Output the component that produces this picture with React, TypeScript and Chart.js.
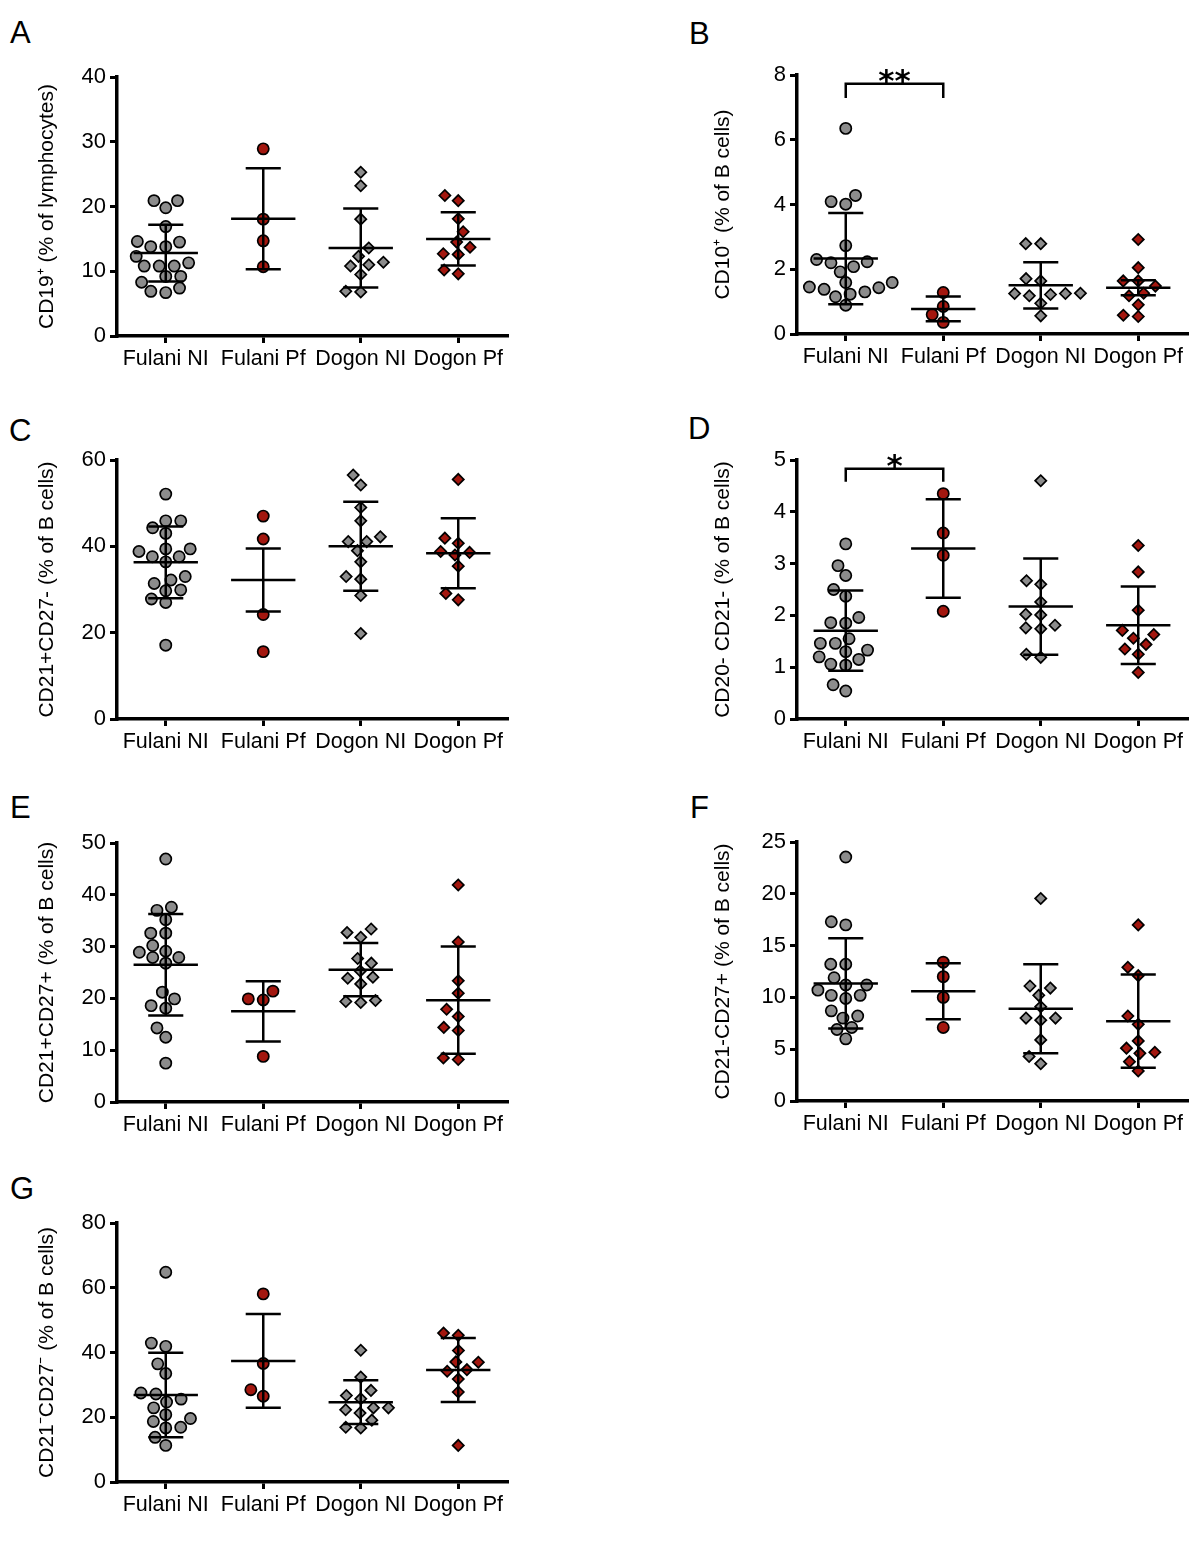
import React, { useEffect, useRef } from 'react';
import { Chart, registerables } from 'chart.js';

Chart.register(...registerables);

const FONT = "'Liberation Sans', Arial, Helvetica, sans-serif";
const GRAY = '#8c8c8c';
const RED = '#a3170f';

const categories = ['Fulani NI', 'Fulani Pf', 'Dogon NI', 'Dogon Pf'];

// ---------- Panel A: CD19+ (% of lymphocytes)
const aFulaniNI = [20.9, 20.9, 19.8, 16.9, 14.5, 14.6, 13.8, 13.8, 12.3, 11.3, 10.8, 10.8, 10.8, 9.2, 9.2, 8.3, 7.4, 6.9, 6.7];
const aFulaniPf = [28.9, 18.05, 14.7, 10.7];
const aDogonNI = [25.3, 23.2, 18.05, 13.6, 11.4, 12.3, 11.0, 10.8, 9.5, 6.8, 6.9];
const aDogonPf = [21.7, 20.9, 18.1, 16.1, 14.5, 13.7, 12.7, 12.6, 9.6, 10.2];
const aMean = [12.8, 18.1, 13.6, 15.0];
const aSD = [4.4, 7.8, 6.1, 4.1];

// ---------- Panel B: CD10+ (% of B cells)
const bFulaniNI = [6.35, 4.28, 4.01, 4.09, 2.73, 2.30, 2.20, 2.23, 2.08, 1.92, 1.59, 1.59, 1.38, 1.23, 1.45, 1.43, 1.30, 1.15, 0.89];
const bFulaniPf = [1.28, 0.85, 0.60, 0.36];
const bDogonNI = [2.79, 2.79, 1.64, 1.71, 1.25, 1.22, 1.18, 1.25, 1.26, 0.95, 0.56];
const bDogonPf = [2.92, 2.05, 1.64, 1.64, 1.26, 1.48, 1.18, 0.90, 0.54, 0.58];
const bMean = [2.33, 0.775, 1.505, 1.43];
const bSD = [1.41, 0.385, 0.715, 0.23];
const bBracket = { from: 0, to: 1, level: 7.73, drop: 7.29, label: '**' };

// ---------- Panel C: CD21+CD27- (% of B cells)
const cFulaniNI = [52.1, 45.9, 45.9, 44.3, 43.0, 39.4, 38.8, 39.4, 37.6, 37.6, 36.4, 33.0, 32.2, 31.4, 29.9, 29.7, 27.8, 27.0, 17.1];
const cFulaniPf = [47.0, 41.7, 24.2, 15.6];
const cDogonNI = [56.5, 54.2, 49.0, 45.9, 42.2, 41.1, 41.1, 39.0, 36.4, 33.0, 32.4, 28.6, 19.8];
const cDogonPf = [55.5, 38.8, 40.7, 41.9, 38.0, 38.6, 35.4, 29.1, 27.6];
const cMean = [36.3, 32.2, 40.0, 38.4];
const cSD = [8.3, 7.3, 10.3, 8.1];

// ---------- Panel D: CD20- CD21- (% of B cells)
const dFulaniNI = [3.38, 2.96, 2.77, 2.50, 2.37, 1.96, 1.86, 1.85, 1.55, 1.46, 1.46, 1.33, 1.30, 1.20, 1.06, 1.04, 1.15, 0.66, 0.54];
const dFulaniPf = [4.35, 3.59, 3.16, 2.08];
const dDogonNI = [4.60, 2.67, 2.60, 2.26, 2.01, 2.02, 1.76, 1.74, 1.81, 1.19, 1.25];
const dDogonPf = [3.35, 2.84, 2.10, 1.71, 1.63, 1.56, 1.35, 1.44, 1.25, 0.90];
const dMean = [1.705, 3.29, 2.17, 1.81];
const dSD = [0.775, 0.95, 0.93, 0.75];
const dBracket = { from: 0, to: 1, level: 4.83, drop: 4.58, label: '*' };

// ---------- Panel E: CD21+CD27+ (% of B cells)
const eFulaniNI = [46.9, 37.0, 37.6, 35.2, 32.6, 32.6, 30.2, 28.9, 29.1, 27.9, 27.9, 26.8, 19.9, 21.2, 18.1, 18.6, 14.3, 12.5, 7.5];
const eFulaniPf = [19.9, 19.7, 21.4, 8.8];
const eDogonNI = [32.7, 31.8, 33.4, 26.8, 27.7, 25.3, 23.9, 24.1, 22.8, 19.6, 19.2, 19.4];
const eDogonPf = [41.9, 30.9, 23.4, 21.0, 17.9, 16.5, 14.4, 13.8, 8.2, 8.5];
const eMean = [26.5, 17.5, 25.55, 19.65];
const eSD = [9.8, 5.8, 5.15, 10.35];

// ---------- Panel F: CD21-CD27+ (% of B cells)
const fFulaniNI = [23.55, 17.0, 17.3, 13.2, 13.2, 11.9, 11.2, 11.2, 10.2, 10.2, 10.7, 9.9, 8.7, 8.2, 8.0, 7.1, 6.9, 6.0];
const fFulaniPf = [13.4, 12.0, 10.0, 7.1];
const fDogonNI = [19.55, 10.9, 11.1, 10.2, 9.1, 8.0, 7.8, 8.0, 5.9, 3.6, 4.3];
const fDogonPf = [17.0, 12.9, 12.1, 8.2, 7.4, 5.8, 5.1, 4.7, 4.6, 3.8, 2.9];
const fMean = [11.35, 10.6, 8.9, 7.7];
const fSD = [4.35, 2.7, 4.3, 4.5];

// ---------- Panel G: CD21-CD27- (% of B cells)
const gFulaniNI = [64.8, 41.9, 42.9, 36.5, 33.5, 27.5, 27.2, 24.7, 25.6, 22.9, 20.8, 19.6, 18.7, 16.7, 16.9, 13.8, 11.3];
const gFulaniPf = [58.1, 36.6, 28.5, 26.5];
const gDogonNI = [40.7, 32.4, 28.3, 25.7, 26.7, 22.9, 22.3, 22.9, 21.3, 19.1, 16.7, 16.9];
const gDogonPf = [45.3, 46.0, 37.0, 40.6, 37.1, 34.2, 34.7, 31.8, 27.8, 11.3];
const gMean = [26.85, 37.4, 24.65, 34.6];
const gSD = [13.05, 14.5, 6.75, 9.9];

type Bracket = { from: number; to: number; level: number; drop: number; label: string };
type PanelCfg = {
  letter: string;
  col: number;
  plotTop: number;
  letterTop: number;
  letterLeft: number;
  title: string;
  yMax: number;
  step: number;
  groups: number[][];
  means: number[];
  sds: number[];
  bracket?: Bracket;
};

const panels: PanelCfg[] = [
  { letter: 'A', col: 0, plotTop: 77, letterTop: 17, letterLeft: 10, title: 'CD19\u207A (% of lymphocytes)', yMax: 40, step: 10, groups: [aFulaniNI, aFulaniPf, aDogonNI, aDogonPf], means: aMean, sds: aSD },
  { letter: 'B', col: 1, plotTop: 75, letterTop: 18, letterLeft: 689, title: 'CD10\u207A (% of B cells)', yMax: 8, step: 2, groups: [bFulaniNI, bFulaniPf, bDogonNI, bDogonPf], means: bMean, sds: bSD, bracket: bBracket },
  { letter: 'C', col: 0, plotTop: 460, letterTop: 415, letterLeft: 9, title: 'CD21+CD27- (% of B cells)', yMax: 60, step: 20, groups: [cFulaniNI, cFulaniPf, cDogonNI, cDogonPf], means: cMean, sds: cSD },
  { letter: 'D', col: 1, plotTop: 460, letterTop: 413, letterLeft: 688, title: 'CD20- CD21- (% of B cells)', yMax: 5, step: 1, groups: [dFulaniNI, dFulaniPf, dDogonNI, dDogonPf], means: dMean, sds: dSD, bracket: dBracket },
  { letter: 'E', col: 0, plotTop: 843, letterTop: 792, letterLeft: 10, title: 'CD21+CD27+ (% of B cells)', yMax: 50, step: 10, groups: [eFulaniNI, eFulaniPf, eDogonNI, eDogonPf], means: eMean, sds: eSD },
  { letter: 'F', col: 1, plotTop: 842, letterTop: 792, letterLeft: 690, title: 'CD21-CD27+ (% of B cells)', yMax: 25, step: 5, groups: [fFulaniNI, fFulaniPf, fDogonNI, fDogonPf], means: fMean, sds: fSD },
  { letter: 'G', col: 0, plotTop: 1223, letterTop: 1173, letterLeft: 10, title: 'CD21\u207BCD27\u207B (% of B cells)', yMax: 80, step: 20, groups: [gFulaniNI, gFulaniPf, gDogonNI, gDogonPf], means: gMean, sds: gSD },
];

// layout sizes (pixels)
const CANVAS_W = 520;
const CANVAS_H = 340;
const PAD_TOP = 40;
const Y_AXIS_W = 117;
const X_AXIS_H = 41;
const PLOT_H = CANVAS_H - PAD_TOP - X_AXIS_H; // 259
const CAT_W = 97.5;
const SPREAD_X = 15; // horizontal spacing of neighbouring dots
const SPREAD_Y = 11.5; // vertical distance below which dots are spread

// beeswarm spread (computed from values, in category units)
function swarm(values: number[], yMax: number): number[] {
  const pxPerUnit = PLOT_H / yMax;
  const placed: { x: number; y: number }[] = [];
  const order = values.map((_, i) => i).sort((a, b) => values[a] - values[b]);
  const xs = new Array(values.length).fill(0);
  const hits = (x1: number, y1: number, x2: number, y2: number) =>
    ((x1 - x2) / SPREAD_X) ** 2 + ((y1 - y2) / SPREAD_Y) ** 2 < 0.999;
  for (const i of order) {
    const y = values[i] * pxPerUnit;
    const cands = [0];
    for (const p of placed) {
      const dy = Math.abs(p.y - y);
      if (dy < SPREAD_Y) {
        const dx = SPREAD_X * Math.sqrt(1 - (dy / SPREAD_Y) ** 2);
        cands.push(p.x - dx, p.x + dx);
      }
    }
    cands.sort((a, b) => Math.abs(a) - Math.abs(b) || a - b);
    for (const c of cands) {
      if (placed.every((p) => !hits(p.x, p.y, c, y))) {
        xs[i] = c;
        placed.push({ x: c, y });
        break;
      }
    }
  }
  return xs.map((x) => x / CAT_W);
}

function Panel({ p }: { p: PanelCfg }) {
  const ref = useRef<HTMLCanvasElement>(null);
  useEffect(() => {
    const canvas = ref.current;
    if (!canvas) return;
    const datasets = p.groups.map((vals, gi) => {
      const offs = swarm(vals, p.yMax);
      return {
        label: categories[gi],
        data: vals.map((v, k) => ({ x: gi + offs[k], y: v })),
        pointStyle: gi < 2 ? 'circle' : 'rectRot',
        pointRadius: 5.6,
        pointBackgroundColor: gi % 2 === 0 ? GRAY : RED,
        pointBorderColor: '#000',
        pointBorderWidth: 1.7,
        clip: false,
      };
    });

    const overlay = {
      id: 'overlay',
      afterDatasetsDraw(chart: any) {
        const { ctx } = chart;
        const xs = chart.scales.x;
        const ys = chart.scales.y;
        ctx.save();
        ctx.strokeStyle = '#000';
        ctx.lineWidth = 2.5;
        const hline = (gi: number, val: number, half: number) => {
          const y = ys.getPixelForValue(val);
          ctx.beginPath();
          ctx.moveTo(xs.getPixelForValue(gi - half), y);
          ctx.lineTo(xs.getPixelForValue(gi + half), y);
          ctx.stroke();
        };
        p.means.forEach((m, gi) => {
          const sd = p.sds[gi];
          hline(gi, m, 0.33);
          hline(gi, m + sd, 0.18);
          hline(gi, m - sd, 0.18);
          const x = xs.getPixelForValue(gi);
          ctx.beginPath();
          ctx.moveTo(x, ys.getPixelForValue(m + sd));
          ctx.lineTo(x, ys.getPixelForValue(m - sd));
          ctx.stroke();
        });
        const b = p.bracket;
        if (b) {
          const x1 = xs.getPixelForValue(b.from);
          const x2 = xs.getPixelForValue(b.to);
          const yl = ys.getPixelForValue(b.level);
          const yd = ys.getPixelForValue(b.drop);
          ctx.lineWidth = 2.5;
          ctx.beginPath();
          ctx.moveTo(x1, yd);
          ctx.lineTo(x1, yl);
          ctx.lineTo(x2, yl);
          ctx.lineTo(x2, yd);
          ctx.stroke();
          ctx.fillStyle = '#000';
          ctx.font = "bold 31px 'DejaVu Sans', sans-serif";
          ctx.textAlign = 'center';
          ctx.textBaseline = 'alphabetic';
          ctx.fillText(b.label, (x1 + x2) / 2, yl + 7);
        }
        ctx.restore();
      },
    };

    const axisGrid = {
      display: true,
      drawOnChartArea: false,
      drawTicks: true,
      tickLength: 7,
      lineWidth: 3,
      color: '#000',
    };
    const axisBorder = { display: true, width: 3.5, color: '#000' };

    const chart = new Chart(canvas, {
      type: 'scatter',
      data: { datasets: datasets as any },
      options: {
        animation: false,
        responsive: false,
        maintainAspectRatio: false,
        devicePixelRatio: 1,
        layout: { padding: { top: PAD_TOP, right: CANVAS_W - Y_AXIS_W - 4 * CAT_W, bottom: 0, left: 0 } },
        plugins: { legend: { display: false }, tooltip: { enabled: false } },
        events: [],
        scales: {
          x: {
            type: 'linear',
            min: -0.5,
            max: 3.5,
            afterBuildTicks: (s: any) => {
              s.ticks = categories.map((_, i) => ({ value: i }));
            },
            afterFit: (s: any) => {
              s.height = X_AXIS_H;
            },
            ticks: {
              callback: (v: any) => categories[Math.round(v)] ?? '',
              autoSkip: false,
              maxRotation: 0,
              minRotation: 0,
              font: { size: 21.5, family: FONT },
              color: '#000',
              padding: 3,
            },
            grid: axisGrid,
            border: axisBorder,
          },
          y: {
            type: 'linear',
            min: 0,
            max: p.yMax,
            afterFit: (s: any) => {
              s.width = Y_AXIS_W;
            },
            ticks: {
              stepSize: p.step,
              font: { size: 22, family: FONT },
              color: '#000',
              padding: 4,
            },
            grid: axisGrid,
            border: axisBorder,
            title: {
              display: true,
              text: p.title,
              font: { size: 21, family: FONT },
              color: '#000',
              padding: { top: p.col === 0 ? 35 : 31, bottom: 0 },
            },
          },
        },
      } as any,
      plugins: [overlay],
    });
    return () => chart.destroy();
  }, [p]);

  return (
    <canvas
      ref={ref}
      width={CANVAS_W}
      height={CANVAS_H}
      style={{ position: 'absolute', left: p.col * 680, top: p.plotTop - PAD_TOP, width: CANVAS_W, height: CANVAS_H }}
    />
  );
}

export default function App() {
  return (
    <div style={{ position: 'absolute', left: 0, top: 0, width: 1200, height: 1542, background: '#fff', fontFamily: FONT, overflow: 'hidden' }}>
      {panels.map((p) => (
        <React.Fragment key={p.letter}>
          <div style={{ position: 'absolute', left: p.letterLeft, top: p.letterTop, fontSize: 31, lineHeight: '31px', color: '#000' }}>{p.letter}</div>
          <Panel p={p} />
        </React.Fragment>
      ))}
    </div>
  );
}
